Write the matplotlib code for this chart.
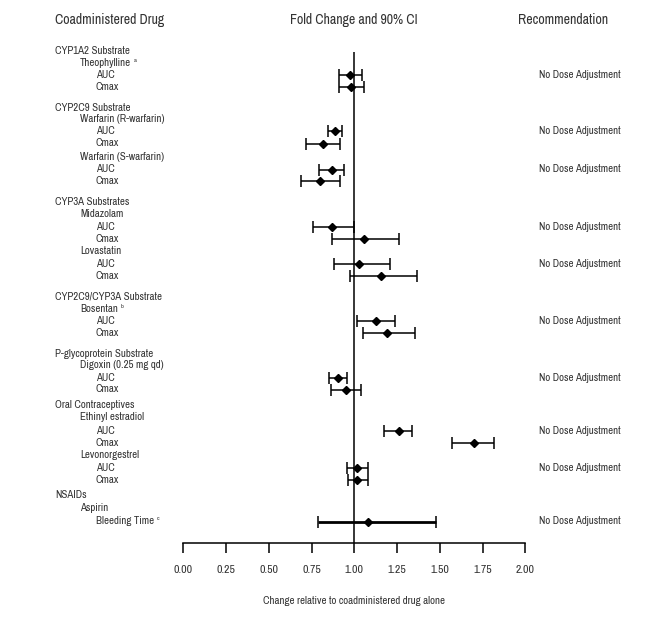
import numpy as np
import matplotlib
matplotlib.use("Agg")
import matplotlib.pyplot as plt
from matplotlib import font_manager
from matplotlib.transforms import blended_transform_factory

# pick a narrow sans face, if one is around
have = {f.name for f in font_manager.fontManager.ttflist}
narrow = [n for n in ["Liberation Sans Narrow", "Arial Narrow", "Archivo Narrow",
                      "Roboto Condensed", "PT Sans Narrow", "Open Sans Condensed",
                      "Pragati Narrow"] if n in have]
plt.rcParams['font.family'] = narrow[:1] + ['Liberation Sans', 'DejaVu Sans']

labels = ["CYP1A2 Substrate", "Theophylline", "AUC", "Cmax",
          "CYP2C9 Substrate", "Warfarin (R-warfarin)", "AUC", "Cmax",
          "Warfarin (S-warfarin)", "AUC", "Cmax",
          "CYP3A Substrates", "Midazolam", "AUC", "Cmax", "Lovastatin", "AUC", "Cmax",
          "CYP2C9/CYP3A Substrate", "Bosentan", "AUC", "Cmax",
          "P-glycoprotein Substrate", "Digoxin (0.25 mg qd)", "AUC", "Cmax",
          "Oral Contraceptives", "Ethinyl estradiol", "AUC", "Cmax",
          "Levonorgestrel", "AUC", "Cmax",
          "NSAIDs", "Aspirin", "Bleeding Time"]
levels = [0, 1, 2, 2,
          0, 1, 2, 2, 1, 2, 2,
          0, 1, 2, 2, 1, 2, 2,
          0, 1, 2, 2,
          0, 1, 2, 2,
          0, 1, 2, 2, 1, 2, 2,
          0, 1, 2]
notes = {"Theophylline": "a", "Bosentan": "b", "Bleeding Time": "c"}

# vertical row positions (pixels from top of figure)
row_y = [51, 63.5, 74.5, 86.5,
         108, 119.5, 131, 143.5, 157, 169.5, 181,
         202, 214, 226.5, 238.5, 251, 264, 276,
         297, 309.5, 321, 332.5,
         354, 365.5, 378, 389.5,
         405, 417.5, 430.5, 442.5, 454.5, 468, 480,
         495.5, 508, 521.5]

# fold change and 90% CI, one per pk row (in row order)
est = [0.975, 0.979, 0.889, 0.819, 0.870, 0.800,
       0.870, 1.057, 1.029, 1.158, 1.125, 1.193,
       0.906, 0.950, 1.260, 1.700, 1.018, 1.018, 1.080]
lo = [0.912, 0.912, 0.848, 0.719, 0.795, 0.690,
      0.760, 0.871, 0.883, 0.977, 1.018, 1.053,
      0.854, 0.866, 1.175, 1.573, 0.959, 0.965, 0.790]
hi = [1.047, 1.055, 0.930, 0.918, 0.942, 0.918,
      1.000, 1.263, 1.211, 1.368, 1.240, 1.357,
      0.959, 1.041, 1.339, 1.819, 1.082, 1.082, 1.480]

# recommendation shown next to the first pk row of each drug
rec_rows = ["Theophylline", "Warfarin (R-warfarin)", "Warfarin (S-warfarin)", "Midazolam",
            "Lovastatin", "Bosentan", "Digoxin (0.25 mg qd)", "Ethinyl estradiol",
            "Levonorgestrel", "Aspirin"]
rec_text = "No Dose Adjustment"

xticks = [0.00, 0.25, 0.50, 0.75, 1.00, 1.25, 1.50, 1.75, 2.00]

W, H = 670, 626
fig = plt.figure(figsize=(W / 100, H / 100), dpi=100)
x0, x1 = 183.3, 525.3
ax = fig.add_axes([x0 / W, 0, (x1 - x0) / W, 1])
ax.set_xlim(0, 2)
ax.set_ylim(H, 0)
axis_y = 543

for s in ["top", "left", "right"]:
    ax.spines[s].set_visible(False)
ax.spines["bottom"].set_position(("data", axis_y))
ax.spines["bottom"].set_linewidth(1.1)
ax.set_yticks([])
ax.set_xticks(xticks)
ax.set_xticklabels([f"{t:.2f}" for t in xticks])
ax.tick_params(axis="x", direction="out", length=7, width=1.1, pad=9,
               labelsize=8.5, labelcolor="#333333")
ax.patch.set_alpha(0)

ax.vlines(1.0, 52, axis_y, color="black", lw=1.1)

pk_y = [y for y, lv in zip(row_y, levels) if lv == 2]
est = np.array(est); lo = np.array(lo); hi = np.array(hi)
for i, y in enumerate(pk_y):
    lw = 2.0 if i == len(pk_y) - 1 else 1.1
    ax.errorbar(est[i], y, xerr=[[est[i] - lo[i]], [hi[i] - est[i]]], fmt="D",
                color="black", ms=4.5, elinewidth=lw, capsize=4.5, capthick=1.1)

tr = blended_transform_factory(fig.transFigure, ax.transData)
indent = [55, 80, 96]
txt = "#333333"
fs = 7.8 if narrow else 7.0
for j, (lab, lv, y) in enumerate(zip(labels, levels, row_y)):
    t = ax.text(indent[lv] / W, y, lab, transform=tr, fontsize=fs, color=txt,
                va="center", ha="left", clip_on=False)
    if lab in notes:
        ax.annotate(notes[lab], xy=(1, 0.75), xycoords=t, xytext=(2, 0),
                    textcoords="offset points", fontsize=4.5, color=txt, va="center")
    if lab in rec_rows:
        ax.text(539 / W, row_y[j + 1], rec_text, transform=tr, fontsize=fs, color=txt,
                va="center", ha="left", clip_on=False)

hdr_y = 20
hfs = 10 if narrow else 8.8
ax.text(55 / W, hdr_y, "Coadministered Drug", transform=tr, fontsize=hfs, color=txt,
        va="center", ha="left")
ax.text(x0 / W + (x1 - x0) / W / 2, hdr_y, "Fold Change and 90% CI", transform=tr,
        fontsize=hfs, color=txt, va="center", ha="center")
ax.text(518 / W, hdr_y, "Recommendation", transform=tr, fontsize=hfs, color=txt,
        va="center", ha="left")

ax.text(1.0, 601, "Change relative to coadministered drug alone", fontsize=fs,
        color=txt, ha="center", va="center")

fig.savefig("out.png", dpi=100)
